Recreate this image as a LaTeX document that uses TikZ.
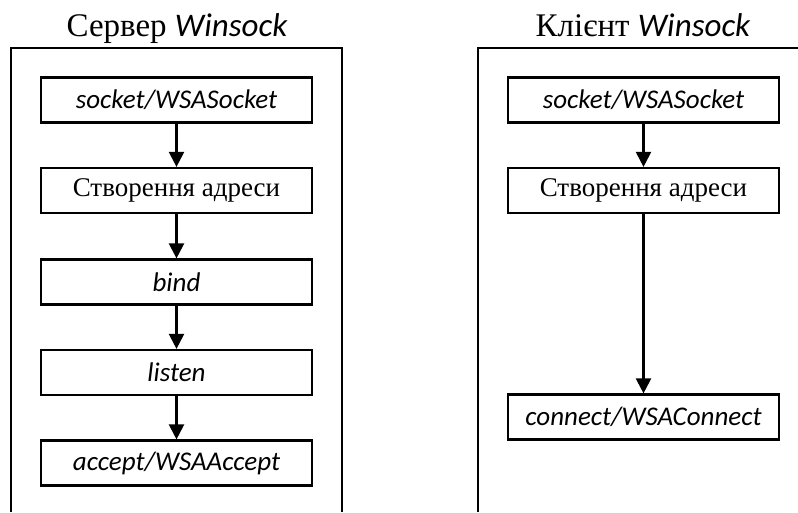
\documentclass[tikz,border=0pt]{standalone}
\usepackage{fontspec}
\setmainfont{Liberation Serif}
\newfontfamily\calfont{Carlito}
\usetikzlibrary{arrows.meta}
\tikzset{
  x=1pt, y=1pt,
  frame/.style={line width=2.2pt},
  stepbox/.style={draw, line width=2.2pt, minimum width=271pt, minimum height=45pt,
    inner sep=0pt, font=\fontsize{27}{31}\selectfont},
  flow/.style={line width=2.2pt, -{Triangle[width=15pt,length=15pt]}},
  heading/.style={font=\fontsize{33}{38}\selectfont, inner sep=0pt, anchor=base},
}
\newcommand{\fn}[1]{{\calfont\itshape #1}}
\begin{document}
\begin{tikzpicture}
\useasboundingbox (0,0) rectangle (798,-512);

% headings
\node[heading] (tsrv) at (177,-36) {Сервер \fn{Winsock}};
\node[heading] (tcli) at (643,-36) {Клієнт \fn{Winsock}};

% outer frames (open at the lower edge)
\draw[frame] (11,-512) -- (11,-48) -- (342,-48) -- (342,-512);
\draw[frame] (478,-512) -- (478,-48) -- (798,-48);

% server steps
\node[stepbox] (s1) at (176.5,-100) {\fn{socket/WSASocket}};
\node[stepbox] (s2) at (176.5,-190.5) {Створення адреси};
\node[stepbox] (s3) at (176.5,-282) {\fn{bind}};
\node[stepbox] (s4) at (176.5,-372.5) {\fn{listen}};
\node[stepbox] (s5) at (176.5,-463) {\fn{accept/WSAAccept}};

% client steps
\node[stepbox] (c1) at (643.5,-100) {\fn{socket/WSASocket}};
\node[stepbox] (c2) at (643.5,-190.5) {Створення адреси};
\node[stepbox] (c3) at (643.5,-417) {\fn{connect/WSAConnect}};

\draw[flow] (s1) -- (s2);
\draw[flow] (s2) -- (s3);
\draw[flow] (s3) -- (s4);
\draw[flow] (s4) -- (s5);
\draw[flow] (c1) -- (c2);
\draw[flow] (c2) -- (c3);
\end{tikzpicture}
\end{document}
